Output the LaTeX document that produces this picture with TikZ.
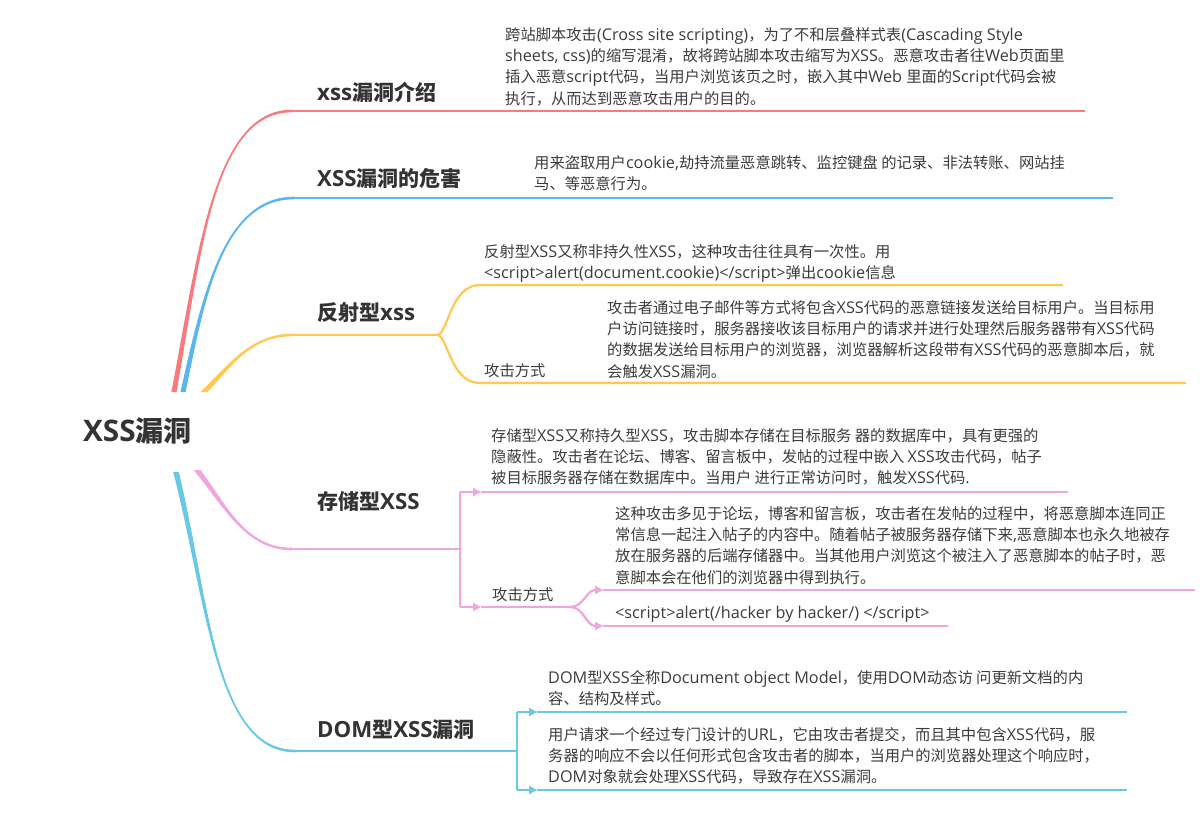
\documentclass[tikz,border=0pt]{standalone}
\usepackage{fontspec}
\setmainfont{Open Sans}[Scale=1.06]
\newfontfamily\cjkfont{Noto Sans CJK SC}
\XeTeXinterchartokenstate=1
\newXeTeXintercharclass\mycjkclass
\newcount\mycnt
\mycnt="2E80
\loop
  \XeTeXcharclass\mycnt=\mycjkclass
  \ifnum\mycnt<"9FFF \advance\mycnt by 1 \repeat
\mycnt="FF00
\loop
  \XeTeXcharclass\mycnt=\mycjkclass
  \ifnum\mycnt<"FFEF \advance\mycnt by 1 \repeat
\XeTeXinterchartoks 0 \mycjkclass = {\cjkfont}
\XeTeXinterchartoks 4095 \mycjkclass = {\cjkfont}
\XeTeXinterchartoks \mycjkclass 0 = {\rmfamily}
\XeTeXinterchartoks 4095 0 = {\rmfamily}
\usetikzlibrary{arrows.meta,calc}
\definecolor{cred}{HTML}{F97A7C}
\definecolor{cblue}{HTML}{5AB6F0}
\definecolor{cyellow}{HTML}{FFC850}
\definecolor{cpink}{HTML}{F0A5DE}
\definecolor{ccyan}{HTML}{69C8E6}
\definecolor{ctext}{HTML}{3C3C3C}
\definecolor{clabel}{HTML}{333333}
\tikzset{
  desc/.style={font=\fontsize{15.3}{21.3}\selectfont, text=ctext, align=left, inner sep=0pt, anchor=north west},
  lbl/.style={font=\fontsize{21}{25}\selectfont\bfseries, text=clabel, inner sep=0pt, anchor=west},
  rootlbl/.style={font=\fontsize{28}{32}\selectfont\bfseries, text=clabel, inner sep=0pt, anchor=west},
  mainline/.style={line width=2.6pt},
  subline/.style={line width=2.2pt},
  tip/.style={-{Triangle[length=8pt,width=8pt]}},
}
\newcommand\taperbranch[8]{%
  \fill[#1] ($(#2)+(-#6,0)$) .. controls ($(#3)+(-0.6*#6,0)$) and ($(#4)+(0,#7)$) .. ($(#5)+(0,#7)$)
   -- ($(#5)+(0,#8)$) .. controls ($(#4)+(0,#8)$) and ($(#3)+(0.6*#6,0)$) .. ($(#2)+(#6,0)$) -- cycle;}
\begin{document}
\begin{tikzpicture}[x=1pt,y=-1pt]
\fill[white] (0,0) rectangle (1202,812);
\useasboundingbox (0,0) rectangle (1202,812);

% ---------- coordinates ----------
\coordinate (s1) at (174,392); \coordinate (a1) at (200,250); \coordinate (b1) at (214,111);
\coordinate (k1) at (292,111); \coordinate (e1) at (1085,111);
\coordinate (s2) at (183,392); \coordinate (a2) at (203,300); \coordinate (b2) at (222,198);
\coordinate (k2) at (294,198); \coordinate (e2) at (1113,198);
\coordinate (s3) at (204,392); \coordinate (a3) at (228,368); \coordinate (b3) at (250,335);
\coordinate (k3) at (292,335); \coordinate (j3) at (437,335);
\coordinate (u3) at (480,285); \coordinate (ue3) at (1063,285);
\coordinate (d3) at (480,383); \coordinate (de3) at (1186,383);
\coordinate (s4) at (197,470); \coordinate (a4) at (225,505); \coordinate (b4) at (245,549);
\coordinate (k4) at (292,549); \coordinate (j4) at (460,549);
\coordinate (p4t) at (460,492); \coordinate (p4b) at (460,607);
\coordinate (q4t) at (481,492); \coordinate (q4b) at (481,607);
\coordinate (e4t) at (1068,492); \coordinate (m4) at (570,607);
\coordinate (r4t) at (603,590); \coordinate (r4b) at (603,626);
\coordinate (f4t) at (1195,590); \coordinate (f4b) at (948,626);
\coordinate (s5) at (176,472); \coordinate (a5) at (208,600); \coordinate (b5) at (215,751);
\coordinate (k5) at (295,751); \coordinate (j5) at (517,751);
\coordinate (p5t) at (517,712); \coordinate (p5b) at (517,790);
\coordinate (q5t) at (537,712); \coordinate (q5b) at (537,790);
\coordinate (e5t) at (1127,712); \coordinate (e5b) at (1127,790);

% ---------- branches ----------
\taperbranch{cred}{s1}{a1}{b1}{k1}{2.6}{-1.3}{1.3}
\draw[mainline,cred] (k1) -- (e1);
\taperbranch{cblue}{s2}{a2}{b2}{k2}{2.6}{-1.3}{1.3}
\draw[mainline,cblue] (k2) -- (e2);
\taperbranch{cyellow}{s3}{a3}{b3}{k3}{3.6}{-1.3}{1.3}
\draw[mainline,cyellow] (k3) -- (j3);
\draw[subline,cyellow] (j3) .. controls (448,335) and (450,285) .. (u3) -- (ue3);
\draw[subline,cyellow] (j3) .. controls (448,335) and (450,383) .. (d3) -- (de3);
\taperbranch{cpink}{s4}{a4}{b4}{k4}{3.4}{1.3}{-1.3}
\draw[mainline,cpink] (k4) -- (j4);
\draw[subline,cpink] (p4t) -- (p4b);
\draw[subline,cpink,tip] (p4t) -- (q4t);
\draw[subline,cpink,tip] (p4b) -- (q4b);
\draw[subline,cpink] (q4t) -- (e4t);
\draw[subline,cpink] (q4b) -- (m4);
\draw[subline,cpink,tip] (m4) .. controls (584,607) and (586,590) .. (r4t);
\draw[subline,cpink,tip] (m4) .. controls (584,607) and (586,626) .. (r4b);
\draw[subline,cpink] (r4t) -- (f4t);
\draw[subline,cpink] (r4b) -- (f4b);
\taperbranch{ccyan}{s5}{a5}{b5}{k5}{2.8}{1.3}{-1.3}
\draw[mainline,ccyan] (k5) -- (j5);
\draw[subline,ccyan] (p5t) -- (p5b);
\draw[subline,ccyan,tip] (p5t) -- (q5t);
\draw[subline,ccyan,tip] (p5b) -- (q5b);
\draw[subline,ccyan] (q5t) -- (e5t);
\draw[subline,ccyan] (q5b) -- (e5b);

% ---------- labels ----------
\node[rootlbl] (root) at (83,431) {XSS漏洞};
\node[lbl] (l1) at (317,92) {xss漏洞介绍};
\node[lbl] (l2) at (317,178) {XSS漏洞的危害};
\node[lbl] (l3) at (317,313) {反射型xss};
\node[lbl] (l4) at (317,501) {存储型XSS};
\node[lbl] (l5) at (317,730) {DOM型XSS漏洞};

% ---------- texts ----------
\node[desc] (t1) at (505,25) {\strut 跨站脚本攻击(Cross site scripting)，为了不和层叠样式表(Cascading Style\\sheets, css)的缩写混淆，故将跨站脚本攻击缩写为XSS。恶意攻击者往Web页面里\\插入恶意script代码，当用户浏览该页之时，嵌入其中Web 里面的Script代码会被\\执行，从而达到恶意攻击用户的目的。};
\node[desc] (t2) at (534,153) {\strut 用来盗取用户cookie,劫持流量恶意跳转、监控键盘 的记录、非法转账、网站挂\\马、等恶意行为。};
\node[desc] (t3a) at (484,242) {\strut 反射型XSS又称非持久性XSS，这种攻击往往具有一次性。用\\<script>alert(document.cookie)</script>弹出cookie信息};
\node[desc] (t3c) at (484,361) {\strut 攻击方式};
\node[desc] (t3b) at (607,298) {\strut 攻击者通过电子邮件等方式将包含XSS代码的恶意链接发送给目标用户。当目标用\\户访问链接时，服务器接收该目标用户的请求并进行处理然后服务器带有XSS代码\\的数据发送给目标用户的浏览器，浏览器解析这段带有XSS代码的恶意脚本后，就\\会触发XSS漏洞。};
\node[desc] (t4a) at (491,426) {\strut 存储型XSS又称持久型XSS，攻击脚本存储在目标服务 器的数据库中，具有更强的\\隐蔽性。攻击者在论坛、博客、留言板中，发帖的过程中嵌入 XSS攻击代码，帖子\\被目标服务器存储在数据库中。当用户 进行正常访问时，触发XSS代码.};
\node[desc] (t4d) at (492,585) {\strut 攻击方式};
\node[desc] (t4b) at (615,504) {\strut 这种攻击多见于论坛，博客和留言板，攻击者在发帖的过程中，将恶意脚本连同正\\常信息一起注入帖子的内容中。随着帖子被服务器存储下来,恶意脚本也永久地被存\\放在服务器的后端存储器中。当其他用户浏览这个被注入了恶意脚本的帖子时，恶\\意脚本会在他们的浏览器中得到执行。};
\node[desc] (t4c) at (615,603) {\strut <script>alert(/hacker by hacker/) </script>};
\node[desc] (t5a) at (548,668) {\strut DOM型XSS全称Document object Model，使用DOM动态访 问更新文档的内\\容、结构及样式。};
\node[desc] (t5b) at (548,725) {\strut 用户请求一个经过专门设计的URL，它由攻击者提交，而且其中包含XSS代码，服\\务器的响应不会以任何形式包含攻击者的脚本，当用户的浏览器处理这个响应时，\\DOM对象就会处理XSS代码，导致存在XSS漏洞。};
\end{tikzpicture}
\end{document}
